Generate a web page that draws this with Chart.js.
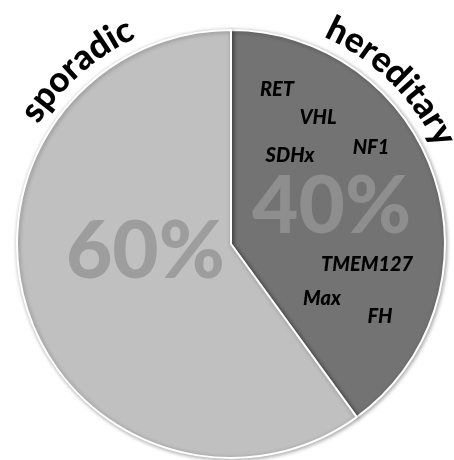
<!DOCTYPE html>
<html>
<head>
<meta charset="utf-8">
<script src="https://cdn.jsdelivr.net/npm/chart.js@4"></script>
<style>
  html, body { margin: 0; padding: 0; background: #fff; }
  #wrap { width: 454px; height: 460px; }
</style>
</head>
<body>
<div id="wrap"><canvas id="pie"></canvas></div>
<script>
const groups = ['hereditary', 'sporadic'];
const shares = [40, 60];
const genes = ['RET', 'VHL', 'NF1', 'SDHx', 'TMEM127', 'Max', 'FH'];

const sliceColors = ['#737373', '#c0c0c0'];
const pctColors = ['#8e8e8e', '#9d9d9d'];

// where things sit, as fractions of the radius from the pie centre
const pctSpots = [[0.47, -0.17], [-0.40, 0.04]];
const geneSpots = [[0.215, -0.724], [0.407, -0.589], [0.654, -0.449], [0.276, -0.411],
                   [0.636, 0.098], [0.425, 0.257], [0.696, 0.341]];
// curved group names: centre angle (deg, 0 = 3 o'clock), baseline radius factor
const arcLabelSpots = [[-45.5, 1.06], [-131.5, 1.06]];

const FONT = 'Lato, "Open Sans", sans-serif';

function drawCurved(ctx, text, cx, cy, r, angleDeg) {
  const total = ctx.measureText(text).width;
  let a = angleDeg * Math.PI / 180 - total / r / 2;
  for (const ch of text) {
    const w = ctx.measureText(ch).width;
    const mid = a + (w / 2) / r;
    ctx.save();
    ctx.translate(cx + r * Math.cos(mid), cy + r * Math.sin(mid));
    ctx.rotate(mid + Math.PI / 2);
    ctx.fillText(ch, 0, 0);
    ctx.restore();
    a += w / r;
  }
}

const shadow = {
  id: 'shadow',
  beforeDatasetsDraw(chart) {
    const ctx = chart.ctx;
    ctx.save();
    ctx.shadowColor = 'rgba(0,0,0,0.35)';
    ctx.shadowBlur = 4;
    ctx.shadowOffsetX = 1;
    ctx.shadowOffsetY = 1;
  },
  afterDatasetsDraw(chart) {
    chart.ctx.restore();
  }
};

const labels = {
  id: 'labels',
  afterDraw(chart) {
    const ctx = chart.ctx;
    const arcs = chart.getDatasetMeta(0).data;
    const cx = arcs[0].x, cy = arcs[0].y, R = arcs[0].outerRadius;
    ctx.save();
    ctx.textAlign = 'center';

    // big percentages
    ctx.font = '900 80px ' + FONT;
    ctx.textBaseline = 'middle';
    shares.forEach((v, i) => {
      ctx.fillStyle = pctColors[i];
      ctx.fillText(v + '%', cx + pctSpots[i][0] * R, cy + pctSpots[i][1] * R);
    });

    // gene names in the hereditary slice
    ctx.font = 'italic 900 20px ' + FONT;
    ctx.fillStyle = '#000';
    genes.forEach((g, i) => {
      ctx.fillText(g, cx + geneSpots[i][0] * R, cy + geneSpots[i][1] * R);
    });

    // group names around the rim
    ctx.font = '900 35px ' + FONT;
    ctx.textBaseline = 'alphabetic';
    groups.forEach((g, i) => {
      drawCurved(ctx, g, cx, cy, R * arcLabelSpots[i][1], arcLabelSpots[i][0]);
    });
    ctx.restore();
  }
};

new Chart(document.getElementById('pie'), {
  type: 'pie',
  data: {
    labels: groups,
    datasets: [{
      data: shares,
      backgroundColor: sliceColors,
      borderColor: '#ffffff',
      borderWidth: 2
    }]
  },
  options: {
    responsive: true,
    maintainAspectRatio: false,
    animation: false,
    layout: { padding: { left: 16, right: 8, top: 29, bottom: 1 } },
    plugins: { legend: { display: false }, tooltip: { enabled: false } }
  },
  plugins: [shadow, labels]
});
</script>
</body>
</html>
